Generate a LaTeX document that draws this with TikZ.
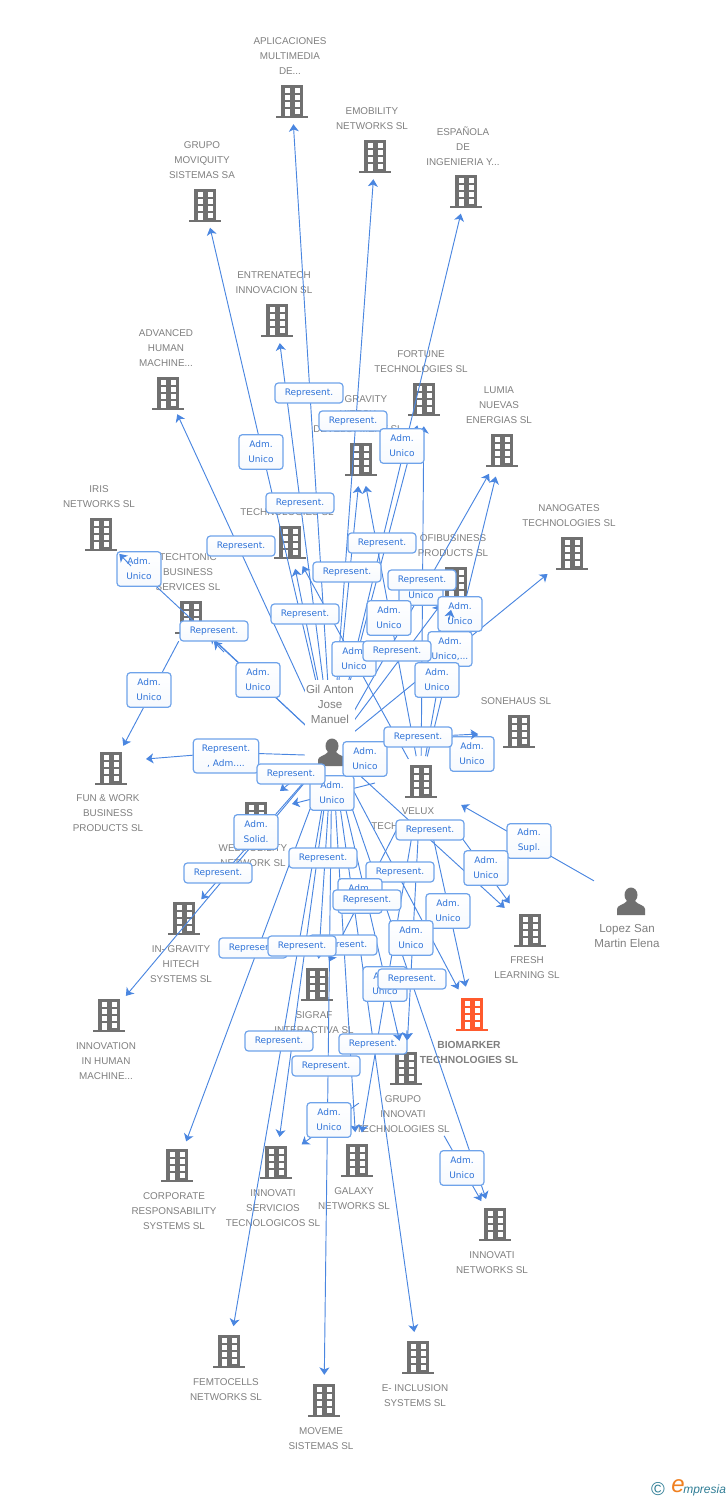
\documentclass[tikz,border=0pt]{standalone}
\usepackage{fontspec}
\setmainfont{Liberation Sans}
\newfontfamily\boxfont{DejaVu Sans}
\usepackage{tikz}
\usetikzlibrary{arrows.meta}
\definecolor{linkblue}{HTML}{4A86E0}
\definecolor{boxblue}{HTML}{2F73D8}
\definecolor{boxline}{HTML}{6FA3EA}
\definecolor{bldggray}{HTML}{707070}
\definecolor{lblgray}{HTML}{7F7F7F}
\definecolor{bioorange}{HTML}{FF5A2D}
\definecolor{logoteal}{HTML}{2F7D95}
\definecolor{logoorange}{HTML}{F08020}
\tikzset{
	bldg/.style={circle, inner sep=0, minimum size=39pt},
	lbl/.style={font=\fontsize{7.4}{11.25}\selectfont, text=lblgray, align=center, inner sep=0},
	perslbl/.style={font=\fontsize{8.7}{11.25}\selectfont, text=lblgray, align=center, inner sep=0},
	link/.style={draw=linkblue, line width=.7pt, -{Stealth[length=5.5pt,width=7.5pt,inset=1.5pt]}},
	up/.style={shorten >=-3pt},
	boxbase/.style={draw=boxline, line width=.9pt, rounded corners=2.5pt, inner sep=0, align=center,
		top color=white, bottom color=white!94!boxline, text=boxblue,
		font=\boxfont\fontsize{6.75}{11.25}\selectfont},
	boxr/.style={boxbase, minimum width=51pt, minimum height=15pt},
	boxa/.style={boxbase, minimum width=33pt, minimum height=26pt},
}
\newcommand{\bldgicon}[4]{
	\node[bldg] (#1) at (#2,#3) {};
	\begin{scope}[shift={(#2,#3)}]
		\fill[#4] (-11,-17) rectangle (11,14);
		\fill[#4] (-16,14) rectangle (16,16);
		\fill[white] (-7,-14) rectangle (-2,-9);
		\fill[white] (3,-14) rectangle (8,-9);
		\fill[white] (-7,-7) rectangle (-2,-2);
		\fill[white] (3,-7) rectangle (8,-2);
		\fill[white] (-7,0) rectangle (-2,5);
		\fill[white] (3,0) rectangle (8,5);
		\fill[white] (-7,7) rectangle (-2,14);
		\fill[white] (3,7) rectangle (8,12);
	\end{scope}
}
\newcommand{\persicon}[2]{
	\begin{scope}[shift={(#1,#2)}]
		\fill[bldggray] (0,0) ellipse (6.5 and 7.5);
		\fill[bldggray] (-14,20) -- (-14,14) .. controls (-14,10) and (-7,10) .. (-4,6) -- (4,6)
			.. controls (7,10) and (14,10) .. (14,14) -- (14,20) -- cycle;
	\end{scope}
}
\begin{document}
\begin{tikzpicture}[x=.75pt,y=-.75pt]
	\useasboundingbox (0,0) rectangle (728,1500);
	\coordinate (gil) at (332,750);
	\coordinate (lopez) at (631,902);
	\coordinate (s_fun) at (305,755);
	\coordinate (m_fun) at (226,752.5);
	\coordinate (e_fun) at (146,759);
	\coordinate (e_web) at (280,791);
	\coordinate (s_web) at (375,783);
	\coordinate (e_web2) at (292,804);

	\bldgicon{b_aplic}{292}{102}{bldggray}
	\bldgicon{b_emob}{375}{157}{bldggray}
	\bldgicon{b_espan}{466}{192}{bldggray}
	\bldgicon{b_moviq}{205}{206}{bldggray}
	\bldgicon{b_entre}{277}{321}{bldggray}
	\bldgicon{b_advan}{168}{394}{bldggray}
	\bldgicon{b_fortu}{424}{400}{bldggray}
	\bldgicon{b_lumia}{502}{451}{bldggray}
	\bldgicon{b_gravi}{361}{460}{bldggray}
	\bldgicon{b_iris}{101}{535}{bldggray}
	\bldgicon{b_techl}{290}{543}{bldggray}
	\bldgicon{b_nanog}{572}{554}{bldggray}
	\bldgicon{b_ofibu}{456}{584}{bldggray}
	\bldgicon{b_techt}{191}{618}{bldggray}
	\bldgicon{b_sone}{519}{732}{bldggray}
	\bldgicon{b_fun}{111}{769}{bldggray}
	\bldgicon{b_velux}{421}{782}{bldggray}
	\bldgicon{b_web}{256}{819}{bldggray}
	\bldgicon{b_ingra}{184}{919}{bldggray}
	\bldgicon{b_innoh}{109}{1016}{bldggray}
	\bldgicon{b_fresh}{530}{931}{bldggray}
	\bldgicon{b_sigra}{317}{985}{bldggray}
	\bldgicon{b_bio}{472}{1015}{bioorange}
	\bldgicon{b_grupo}{406}{1069}{bldggray}
	\bldgicon{b_corpo}{177}{1166}{bldggray}
	\bldgicon{b_serv}{276}{1163}{bldggray}
	\bldgicon{b_galax}{357}{1161}{bldggray}
	\bldgicon{b_innet}{495}{1225}{bldggray}
	\bldgicon{b_femto}{229}{1352}{bldggray}
	\bldgicon{b_movem}{324}{1401}{bldggray}
	\bldgicon{b_einc}{418}{1358}{bldggray}

	\node[lbl] (t_aplic) at (290,56) {APLICACIONES\\MULTIMEDIA\\DE...};
	\node[lbl] (t_emob) at (372,118.5) {EMOBILITY\\NETWORKS SL};
	\node[lbl] (t_espan) at (463,146) {ESPAÑOLA\\DE\\INGENIERIA Y...};
	\node[lbl] (t_moviq) at (202,160) {GRUPO\\MOVIQUITY\\SISTEMAS SA};
	\node[lbl] (t_entre) at (274,282.5) {ENTRENATECH\\INNOVACION SL};
	\node[lbl] (t_advan) at (166,348) {ADVANCED\\HUMAN\\MACHINE...};
	\node[lbl] (t_fortu) at (421,361.5) {FORTUNE\\TECHNOLOGIES SL};
	\node[lbl] (t_lumia) at (499,405) {LUMIA\\NUEVAS\\ENERGIAS SL};
	\node[lbl] (t_gravi) at (358,414) {IN- GRAVITY\\HITECH\\DEVELOPMENT SL};
	\node[lbl] (t_iris) at (99,496.5) {IRIS\\NETWORKS SL};
	\node[lbl] (t_techl) at (287,512) {TECHNOLOGIES SL};
	\node[lbl] (t_nanog) at (569,515.5) {NANOGATES\\TECHNOLOGIES SL};
	\node[lbl] (t_ofibu) at (453,545.5) {OFIBUSINESS\\PRODUCTS SL};
	\node[lbl] (t_techt) at (188,572) {TECHTONIC\\BUSINESS\\SERVICES SL};
	\node[lbl] (t_sone) at (516,701) {SONEHAUS SL};
	\node[lbl] (t_fun) at (108,813) {FUN \& WORK\\BUSINESS\\PRODUCTS  SL};
	\node[lbl] (t_velux) at (418,818.5) {VELUX\\TECHNOLOGIES SL};
	\node[lbl] (t_web) at (253,855.5) {WEBMOBILITY\\NETWORK SL};
	\node[lbl] (t_ingra) at (181,964) {IN- GRAVITY\\HITECH\\SYSTEMS SL};
	\node[lbl] (t_innoh) at (106,1061) {INNOVATION\\IN HUMAN\\MACHINE...};
	\node[lbl] (t_fresh) at (527,967.5) {FRESH\\LEARNING SL};
	\node[lbl] (t_sigra) at (314,1022.5) {SIGRAF\\INTERACTIVA SL};
	\node[lbl, font=\fontsize{7.7}{11.25}\selectfont\bfseries] (t_bio) at (469,1052.5) {BIOMARKER\\TECHNOLOGIES SL};
	\node[lbl] (t_grupo) at (403,1114) {GRUPO\\INNOVATI\\TECHNOLOGIES SL};
	\node[lbl] (t_corpo) at (174,1211) {CORPORATE\\RESPONSABILITY\\SYSTEMS SL};
	\node[lbl] (t_serv) at (273,1208) {INNOVATI\\SERVICIOS\\TECNOLOGICOS SL};
	\node[lbl] (t_galax) at (354,1198.5) {GALAXY\\NETWORKS SL};
	\node[lbl] (t_innet) at (492,1262.5) {INNOVATI\\NETWORKS SL};
	\node[lbl] (t_femto) at (226,1389.5) {FEMTOCELLS\\NETWORKS SL};
	\node[lbl] (t_movem) at (321,1438.5) {MOVEME\\SISTEMAS SL};
	\node[lbl] (t_einc) at (415,1395.5) {E- INCLUSION\\SYSTEMS SL};

	\draw[link, up] (gil) -- (b_aplic);
	\draw[link, up] (gil) -- (b_emob);
	\draw[link, up] (gil) -- (b_espan);
	\draw[link, up] (gil) -- (b_moviq);
	\draw[link, up] (gil) -- (b_entre);
	\draw[link, up] (gil) -- (b_advan);
	\draw[link] (gil) -- (b_fortu);
	\draw[link] (gil) -- (b_lumia);
	\draw[link] (gil) -- (b_gravi);
	\draw[link] (gil) -- (b_iris);
	\draw[link] (gil) -- (b_techl);
	\draw[link, shorten >=4pt] (gil) -- (b_nanog);
	\draw[link] (gil) -- (b_ofibu);
	\draw[link] (gil) -- (b_techt);
	\draw[link, shorten >=11pt] (gil) -- (b_sone);
	\draw[link] (s_fun) -- (m_fun) -- (e_fun);
	\draw[link] (gil) -- (e_web);
	\draw[link] (gil) -- (b_ingra);
	\draw[link] (gil) -- (b_innoh);
	\draw[link, shorten >=6pt] (gil) -- (b_fresh);
	\draw[link] (gil) -- (b_sigra);
	\draw[link, shorten >=2pt] (gil) -- (b_bio);
	\draw[link, shorten >=2pt] (gil) -- (b_grupo);
	\draw[link] (gil) -- (b_corpo);
	\draw[link] (gil) -- (b_serv);
	\draw[link, shorten >=2pt] (gil) -- (b_galax);
	\draw[link, shorten >=1pt] (gil) -- (b_innet);
	\draw[link] (gil) -- (b_femto);
	\draw[link] (gil) -- (b_movem);
	\draw[link] (gil) -- (b_einc);

	\draw[link] (b_velux) -- (b_fortu);
	\draw[link] (b_velux) -- (b_lumia);
	\draw[link] (b_velux) -- (b_gravi);
	\draw[link] (b_velux) -- (b_techl);
	\draw[link] (b_velux) -- (b_ofibu);
	\draw[link] (s_web) -- (e_web2);
	\draw[link, shorten <=30pt, shorten >=6pt] (b_velux) -- (b_fresh);
	\draw[link, shorten <=20pt] (b_velux) -- (b_sigra);
	\draw[link, shorten <=20pt, shorten >=2pt] (b_velux) -- (b_bio);
	\draw[link, shorten <=20pt, shorten >=2pt] (b_velux) -- (b_grupo);
	\draw[link, shorten <=20pt, shorten >=2pt] (b_velux) -- (b_galax);

	\draw[link] (b_techt) -- (b_fun);
	\draw[link, shorten <=24pt, shorten >=4pt] (b_grupo) -- (b_serv);
	\draw[link, shorten <=38pt, shorten >=1pt] (b_grupo) -- (b_innet);
	\draw[link, shorten <=32pt, shorten >=15pt] (lopez) -- (b_velux);

	\node[fill=white, inner sep=0, minimum width=37.5pt, minimum height=71pt] (c_gil) at (330,727.5) {};
	\node[perslbl] (t_gil) at (330,704) {Gil Anton\\Jose\\Manuel};
	\persicon{332}{746}
	\persicon{631}{895}
	\node[perslbl] (t_lopez) at (627,935.5) {Lopez San\\Martin Elena};

	\node[boxa] (a_12) at (332,793) {Adm.\\Unico};
	\node[boxr] (r_1) at (309,393) {Represent.};
	\node[boxr] (r_2) at (353,421) {Represent.};
	\node[boxa] (a_1) at (402,446) {Adm.\\Unico};
	\node[boxa] (a_2) at (261,452) {Adm.\\Unico};
	\node[boxr] (r_3) at (300,503) {Represent.};
	\node[boxr] (r_4) at (241,546) {Represent.};
	\node[boxr] (r_5) at (382,543) {Represent.};
	\node[boxr] (r_6) at (347,572) {Represent.};
	\node[boxa] (a_3) at (421,588) {Adm.\\Unico};
	\node[boxr] (r_7) at (422,580) {Represent.};
	\node[boxa] (a_4) at (389,618) {Adm.\\Unico};
	\node[boxa] (a_5) at (460,614) {Adm.\\Unico};
	\node[boxr] (r_8) at (305,614) {Represent.};
	\node[boxa] (a_6) at (354,659) {Adm.\\Unico};
	\node[boxa] (a_7) at (450,649) {Adm.\\Unico,...};
	\node[boxr] (r_9) at (397,651) {Represent.};
	\node[boxa] (a_8) at (437,680) {Adm.\\Unico};
	\node[boxr] (r_10) at (214,631) {Represent.};
	\node[boxa] (a_9) at (139,569) {Adm.\\Unico};
	\node[boxa] (a_10) at (258,680) {Adm.\\Unico};
	\node[boxa] (a_11) at (149,690) {Adm.\\Unico};
	\node[boxbase, minimum width=49pt, minimum height=25.5pt] (r_11) at (226,756) {Represent.\\, Adm....};
	\node[boxr] (r_12) at (291,774) {Represent.};
	\node[boxa] (a_13) at (365,759) {Adm.\\Unico};
	\node[boxa] (a_14) at (472,754) {Adm.\\Unico};
	\node[boxr] (r_13) at (418,737) {Represent.};
	\node[boxr] (r_14) at (430,830) {Represent.};
	\node[boxa] (a_15) at (529,841) {Adm.\\Supl.};
	\node[boxa] (a_16) at (256,832) {Adm.\\Solid.};
	\node[boxa] (a_17) at (486,868) {Adm.\\Unico};
	\node[boxr] (r_15) at (218,873) {Represent.};
	\node[boxr] (r_16) at (323,858) {Represent.};
	\node[boxr] (r_17) at (400,872) {Represent.};
	\node[boxa] (a_18) at (360,896) {Adm.\\Unico};
	\node[boxr] (r_18) at (367,900) {Represent.};
	\node[boxa] (a_19) at (448,911) {Adm.\\Unico};
	\node[boxa] (a_20) at (411,938) {Adm.\\Unico};
	\node[boxr] (r_19) at (253,948) {Represent.};
	\node[boxr] (r_21) at (343,945) {Represent.};
	\node[boxr] (r_20) at (302,946) {Represent.};
	\node[boxa] (a_21) at (385,984) {Adm.\\Unico};
	\node[boxr] (r_22) at (412,979) {Represent.};
	\node[boxr] (r_23) at (279,1041) {Represent.};
	\node[boxr] (r_24) at (373,1044) {Represent.};
	\node[boxr] (r_25) at (326,1066) {Represent.};
	\node[boxa] (a_22) at (329,1120) {Adm.\\Unico};
	\node[boxa] (a_23) at (462,1168) {Adm.\\Unico};

	\coordinate (h_iris) at (131,566);
	\coordinate (h_ofibu) at (449,620);
	\coordinate (h_techt) at (224,652);
	\coordinate (h_grupo) at (397,1030);
	\coordinate (h_grupo2) at (407,1030);
	\draw[link] (h_iris) -- (b_iris);
	\draw[link] (h_ofibu) -- (b_ofibu);
	\draw[link, shorten >=5pt] (h_techt) -- (b_techt);
	\draw[link, shorten >=2pt] (h_grupo) -- (b_grupo);
	\draw[link, shorten >=2pt] (h_grupo2) -- (b_grupo);
	\draw[link, shorten >=11pt] (r_13) -- (b_sone);

	\node[inner sep=0, text=logoteal, font=\fontsize{14}{14}\selectfont] (logo_c) at (658,1489) {\textcopyright};
	\node[inner sep=0, text=logoorange, font=\fontsize{18}{18}\selectfont\itshape] (logo_e) at (678,1486) {e};
	\node[inner sep=0, text=logoteal, font=\fontsize{9}{12}\selectfont\itshape, anchor=west] (logo_t) at (683,1490) {mpresia};
\end{tikzpicture}
\end{document}
